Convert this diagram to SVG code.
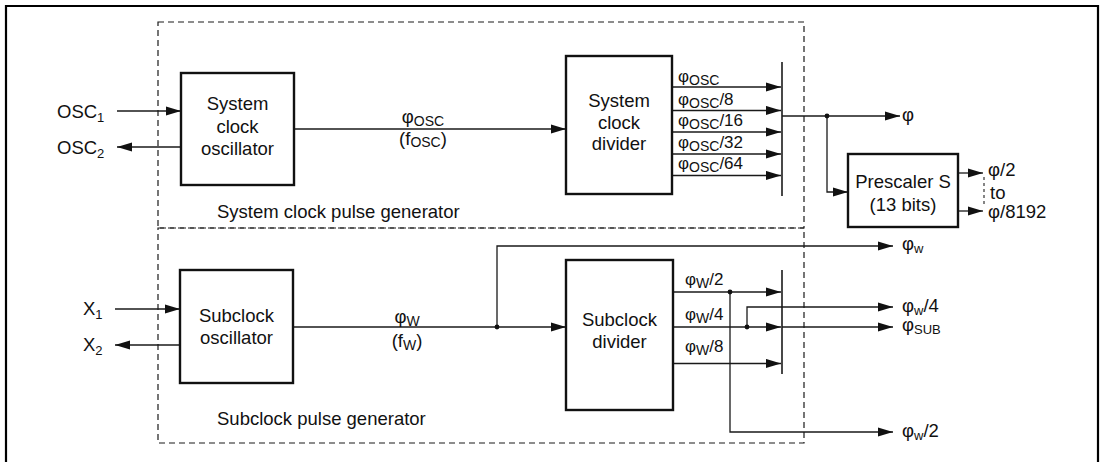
<svg xmlns="http://www.w3.org/2000/svg" width="1103" height="462" viewBox="0 0 1103 462">
<style>
text{font-family:"Liberation Sans",Arial,sans-serif;fill:#111}
.t{font-size:18.5px}
.c{text-anchor:middle}
.lb{font-size:17px}
.sb{font-size:14px}
.ss{font-size:13px}
.box{fill:#fff;stroke:#111;stroke-width:2.4}
.ln{fill:none;stroke:#1a1a1a;stroke-width:1.3}
.ar{marker-end:url(#ah)}
.dash{fill:none;stroke:#1a1a1a;stroke-width:1.2;stroke-dasharray:6,4}
.bar{stroke:#1a1a1a;stroke-width:1.6}
.dot{fill:#111}
</style>
<defs>
<marker id="ah" markerUnits="userSpaceOnUse" markerWidth="16" markerHeight="10" refX="15" refY="5" orient="auto">
<path d="M0,0.4 L15,5 L0,9.6 z" fill="#111"/>
</marker>
</defs>
<path d="M6,470 V6 H1098 V470" fill="none" stroke="#000" stroke-width="2.2"/>

<g id="sys-gen">
<rect class="dash" x="158" y="22" width="646" height="206"/>
<text class="t" x="217" y="218">System clock pulse generator</text>
</g>
<g id="sub-gen">
<rect class="dash" x="158" y="228" width="646" height="215"/>
<text class="t" x="217" y="425">Subclock pulse generator</text>
</g>

<g id="connectors">
<line class="ln ar" x1="117" y1="111" x2="181" y2="111"/>
<line class="ln ar" x1="181" y1="147" x2="117" y2="147"/>
<line class="ln ar" x1="294" y1="129" x2="566" y2="129"/>
<line class="ln ar" x1="672" y1="87" x2="781" y2="87"/>
<line class="ln ar" x1="672" y1="110.5" x2="781" y2="110.5"/>
<line class="ln ar" x1="672" y1="132" x2="781" y2="132"/>
<line class="ln ar" x1="672" y1="154" x2="781" y2="154"/>
<line class="ln ar" x1="672" y1="175.5" x2="781" y2="175.5"/>
<line class="ln ar" x1="782" y1="116" x2="900" y2="116"/>
<path class="ln ar" d="M827,116 V192 H848"/>
<circle class="dot" cx="827" cy="116" r="2.4"/>
<line class="ln ar" x1="958" y1="173" x2="983" y2="173"/>
<line class="ln ar" x1="958" y1="211" x2="983" y2="211"/>
<line x1="984" y1="177" x2="984" y2="207" stroke="#222" stroke-width="1.1" stroke-dasharray="3,3"/>

<line class="ln ar" x1="115" y1="309" x2="180" y2="309"/>
<line class="ln ar" x1="180" y1="345" x2="115" y2="345"/>
<line class="ln ar" x1="293" y1="327" x2="566" y2="327"/>
<path class="ln ar" d="M497,327 V246 H893"/>
<circle class="dot" cx="497" cy="327" r="2.4"/>
<line class="ln ar" x1="673" y1="292" x2="781" y2="292"/>
<line class="ln ar" x1="673" y1="327" x2="781" y2="327"/>
<line class="ln ar" x1="673" y1="363.5" x2="781" y2="363.5"/>
<path class="ln ar" d="M730,292 V432 H893"/>
<circle class="dot" cx="730" cy="292" r="2.4"/>
<path class="ln ar" d="M747,327 V307 H893"/>
<circle class="dot" cx="747" cy="327" r="2.4"/>
<line class="ln ar" x1="782" y1="327" x2="893" y2="327"/>
</g>

<g id="terminals">
<text class="t" x="57" y="118">OSC<tspan class="ss" dy="4">1</tspan></text>
<text class="t" x="57" y="154">OSC<tspan class="ss" dy="4">2</tspan></text>
<text class="t" x="83" y="315">X<tspan class="ss" dy="4">1</tspan></text>
<text class="t" x="83" y="351">X<tspan class="ss" dy="4">2</tspan></text>
<text class="t" x="902" y="121">φ</text>
<text class="t" x="988" y="176">φ/2</text>
<text class="t" x="990" y="199">to</text>
<text class="t" x="988" y="218">φ/8192</text>
<text class="t" x="902" y="250">φ<tspan class="ss" dy="3">w</tspan></text>
<text class="t" x="902" y="312">φ<tspan class="ss" dy="3">w</tspan><tspan dy="-3">/4</tspan></text>
<text class="t" x="902" y="331">φ<tspan class="ss" dy="3">SUB</tspan></text>
<text class="t" x="902" y="437">φ<tspan class="ss" dy="3">w</tspan><tspan dy="-3">/2</tspan></text>
</g>

<g id="line-labels">
<text class="t c" x="423" y="123">φ<tspan class="sb" dy="3">OSC</tspan></text>
<text class="t c" x="423" y="145">(f<tspan class="sb" dy="2">OSC</tspan><tspan dy="-2">)</tspan></text>
<text class="t c" x="407" y="323">φ<tspan class="sb" dy="3">W</tspan></text>
<text class="t c" x="407" y="347">(f<tspan class="sb" dy="3">W</tspan><tspan dy="-3">)</tspan></text>
<text class="lb" x="678" y="82">φ<tspan class="sb" dy="3">OSC</tspan></text>
<text class="lb" x="678" y="105">φ<tspan class="sb" dy="3">OSC</tspan><tspan dy="-3">/8</tspan></text>
<text class="lb" x="678" y="126">φ<tspan class="sb" dy="3">OSC</tspan><tspan dy="-3">/16</tspan></text>
<text class="lb" x="678" y="147.5">φ<tspan class="sb" dy="3">OSC</tspan><tspan dy="-3">/32</tspan></text>
<text class="lb" x="678" y="169">φ<tspan class="sb" dy="3">OSC</tspan><tspan dy="-3">/64</tspan></text>
<text class="lb" x="685" y="285">φ<tspan class="sb" dy="3">W</tspan><tspan dy="-3">/2</tspan></text>
<text class="lb" x="685" y="320">φ<tspan class="sb" dy="3">W</tspan><tspan dy="-3">/4</tspan></text>
<text class="lb" x="685" y="352">φ<tspan class="sb" dy="3">W</tspan><tspan dy="-3">/8</tspan></text>
</g>

<g id="sys-osc">
<rect class="box" x="181" y="73" width="113" height="112"/>
<text class="t c" x="237.5" y="110">System</text>
<text class="t c" x="237.5" y="132.5">clock</text>
<text class="t c" x="237.5" y="155">oscillator</text>
</g>
<g id="sys-div">
<rect class="box" x="566" y="56" width="106" height="138"/>
<text class="t c" x="619" y="107">System</text>
<text class="t c" x="619" y="128.5">clock</text>
<text class="t c" x="619" y="150">divider</text>
</g>
<g id="sys-sel">
<line class="bar" x1="782" y1="62" x2="782" y2="196"/>
</g>
<g id="prescaler">
<rect class="box" x="848" y="154" width="110" height="73"/>
<text class="t c" x="903" y="188">Prescaler S</text>
<text class="t c" x="903" y="211">(13 bits)</text>
</g>
<g id="sub-osc">
<rect class="box" x="180" y="270" width="113" height="113"/>
<text class="t c" x="236.5" y="322">Subclock</text>
<text class="t c" x="236.5" y="344">oscillator</text>
</g>
<g id="sub-div">
<rect class="box" x="566" y="260" width="107" height="150"/>
<text class="t c" x="619.5" y="326">Subclock</text>
<text class="t c" x="619.5" y="348">divider</text>
</g>
<g id="sub-sel">
<line class="bar" x1="782" y1="270" x2="782" y2="374"/>
</g>
</svg>
